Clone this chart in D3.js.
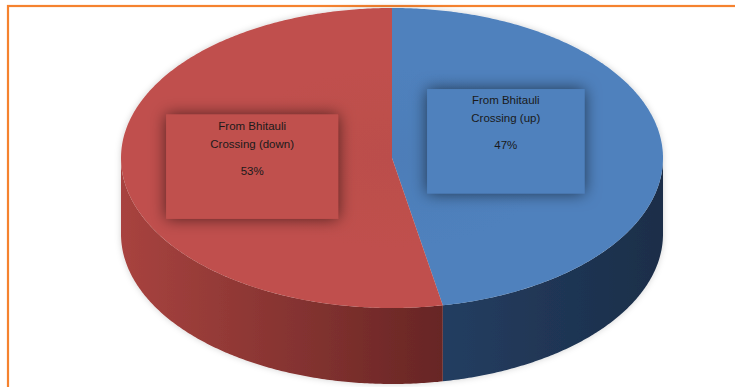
<!DOCTYPE html>
<html>
<head>
<meta charset="utf-8">
<script src="https://cdn.jsdelivr.net/npm/d3@7"></script>
<style>
  html, body { margin: 0; padding: 0; background: #ffffff; }
  svg { display: block; }
</style>
</head>
<body>
<svg id="chart" width="735" height="387"></svg>
<script>
// ---- data ----
const categories = ["From Bhitauli Crossing (up)", "From Bhitauli Crossing (down)"];
const labelLines = [["From Bhitauli", "Crossing (up)"], ["From Bhitauli", "Crossing (down)"]];
const values = [47, 53];
const topColors = ["#4F81BD", "#C0504D"];
const sideColorsLeft = ["#243D60", "#A8433F"];
const sideColorsRight = ["#1B2E49", "#662524"];

// ---- layout ----
const W = 735, H = 387;
const cx = 392, cy = 158, rx = 271, ry = 150, depth = 76;

const svg = d3.select("#chart");
const defs = svg.append("defs");

// border
svg.append("rect").attr("x", 8).attr("y", 6).attr("width", 760).attr("height", 420)
  .attr("fill", "none").attr("stroke", "#F5822F").attr("stroke-width", 2.2);

// filters
const fBox = defs.append("filter").attr("id", "boxShadow")
  .attr("x", "-40%").attr("y", "-40%").attr("width", "180%").attr("height", "180%");
fBox.append("feDropShadow").attr("dx", 0).attr("dy", 0).attr("stdDeviation", 8)
  .attr("flood-color", "#000").attr("flood-opacity", 0.6);

const fPie = defs.append("filter").attr("id", "pieShadow")
  .attr("x", "-10%").attr("y", "-10%").attr("width", "120%").attr("height", "120%");
fPie.append("feDropShadow").attr("dx", 0).attr("dy", 0).attr("stdDeviation", 3)
  .attr("flood-color", "#000").attr("flood-opacity", 0.18);

// side gradients
categories.forEach((c, i) => {
  const g = defs.append("linearGradient").attr("id", "side" + i)
    .attr("gradientUnits", "userSpaceOnUse")
    .attr("x1", i === 0 ? 448 : cx - rx).attr("x2", i === 0 ? cx + rx : 448)
    .attr("y1", 0).attr("y2", 0);
  g.append("stop").attr("offset", "0%").attr("stop-color", sideColorsLeft[i]);
  g.append("stop").attr("offset", "100%").attr("stop-color", sideColorsRight[i]);
});

// top radial shading (subtle)
categories.forEach((c, i) => {
  const g = defs.append("radialGradient").attr("id", "top" + i)
    .attr("gradientUnits", "userSpaceOnUse")
    .attr("cx", cx).attr("cy", cy).attr("r", rx)
    .attr("gradientTransform", `translate(${cx},${cy}) scale(1,${ry / rx}) translate(${-cx},${-cy})`);
  const base = d3.color(topColors[i]);
  g.append("stop").attr("offset", "0%").attr("stop-color", base.darker(0.08));
  g.append("stop").attr("offset", "60%").attr("stop-color", base);
  g.append("stop").attr("offset", "100%").attr("stop-color", base);
});

const pie = d3.pie().sort(null).value(d => d).startAngle(0).endAngle(2 * Math.PI);
const arcs = pie(values);

const px = (a, k = 1) => cx + rx * k * Math.sin(a);
const py = (a, k = 1) => cy - ry * k * Math.cos(a);

function arcPoints(a0, a1, dy = 0) {
  const n = Math.max(2, Math.ceil(Math.abs(a1 - a0) / 0.01));
  const pts = [];
  for (let j = 0; j <= n; j++) {
    const a = a0 + (a1 - a0) * j / n;
    pts.push([px(a), py(a) + dy]);
  }
  return pts;
}

const pieG = svg.append("g").attr("filter", "url(#pieShadow)");

// sides (front half: angles between PI/2 and 3PI/2)
arcs.forEach((d, i) => {
  const a0 = Math.max(d.startAngle, Math.PI / 2);
  const a1 = Math.min(d.endAngle, 3 * Math.PI / 2);
  if (a1 <= a0) return;
  const topPts = arcPoints(a0, a1, 0);
  const botPts = arcPoints(a1, a0, depth);
  pieG.append("path")
    .attr("d", d3.line()(topPts.concat(botPts)) + "Z")
    .attr("fill", `url(#side${i})`);
});

// tops
arcs.forEach((d, i) => {
  const pts = [[cx, cy]].concat(arcPoints(d.startAngle, d.endAngle, 0));
  pieG.append("path")
    .attr("d", d3.line()(pts) + "Z")
    .attr("fill", `url(#top${i})`);
});

// labels
const labelKx = 0.47, labelKy = 0.9;
const fontSize = 11.5;
const fontFamily = "Arial, 'Liberation Sans', sans-serif";
arcs.forEach((d, i) => {
  const mid = (d.startAngle + d.endAngle) / 2;
  const lx = px(mid, labelKx) - 13;
  const ly = py(mid, labelKy) - 4;
  const g = svg.append("g");
  const lines = labelLines[i].concat([Math.round(values[i]) + "%"]);
  const tmp = svg.append("text").attr("font-family", fontFamily).attr("font-size", fontSize);
  let maxW = 0;
  lines.forEach(t => { tmp.text(t); maxW = Math.max(maxW, tmp.node().getComputedTextLength()); });
  tmp.remove();
  const bw = maxW + 88, bh = 104;
  const bx = lx - bw / 2, by = ly - bh / 2;
  g.append("rect").attr("x", bx).attr("y", by).attr("width", bw).attr("height", bh)
    .attr("fill", topColors[i]).attr("filter", "url(#boxShadow)");
  g.append("rect").attr("x", bx).attr("y", by).attr("width", bw).attr("height", bh)
    .attr("fill", topColors[i]);
  const offs = [11, 29, 56];
  lines.forEach((t, j) => {
    g.append("text")
      .attr("x", lx).attr("y", by + offs[j])
      .attr("dy", "0.35em")
      .attr("text-anchor", "middle")
      .attr("font-family", fontFamily)
      .attr("font-size", fontSize)
      .attr("fill", "#1a1a1a")
      .text(t);
  });
});
</script>
</body>
</html>
